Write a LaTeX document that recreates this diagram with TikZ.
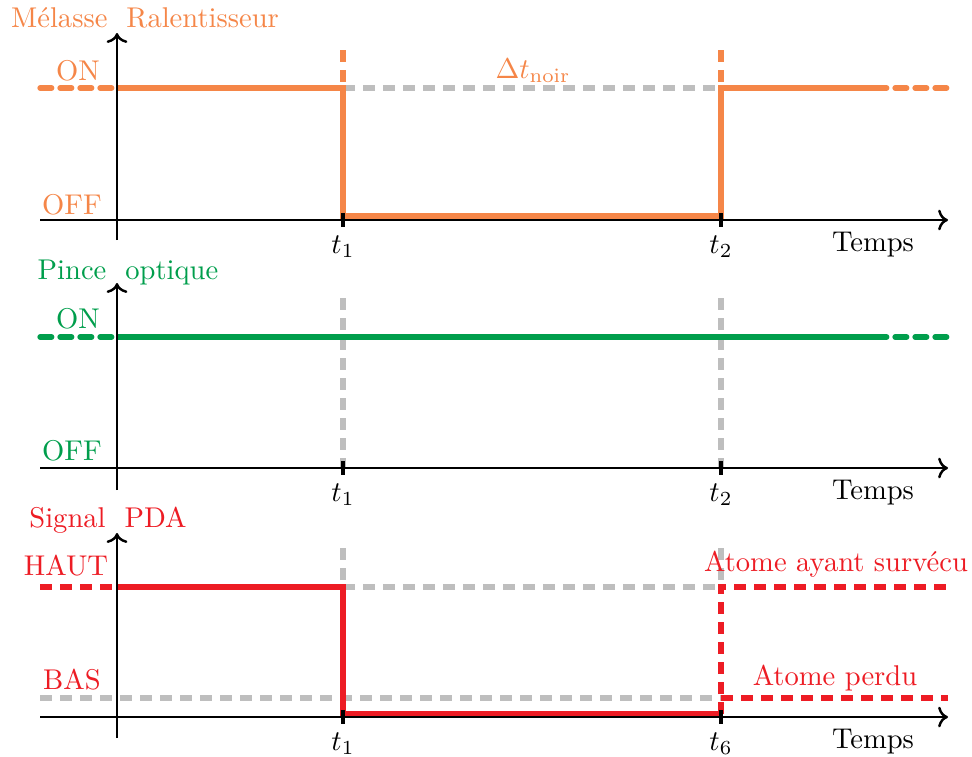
\documentclass[tikz,border=0pt]{standalone}
\usetikzlibrary{arrows.meta}
\definecolor{orng}{RGB}{245,134,72}
\definecolor{grn}{RGB}{0,158,76}
\definecolor{rd}{RGB}{237,28,36}
\definecolor{gry}{RGB}{190,190,190}
\begin{document}
\begin{tikzpicture}[x=0.35pt,y=-0.35pt,
  axis/.style={line width=0.85pt,black},
  axarrow/.style={axis,->},
  tick/.style={line width=1.3pt,black},
  sig/.style={line width=1.85pt},
  dsh/.style={line width=1.85pt,dash pattern=on 4.1pt off 2.9pt},
  lbl/.style={inner sep=0pt,anchor=base}]
\useasboundingbox (0,0) rectangle (972,756);

% ---------------- Panel 1
\coordinate (a1l) at (40,220); \coordinate (a1r) at (948,220);
\coordinate (y1b) at (117,240); \coordinate (y1t) at (117,33);
\draw[dsh,gry] (343,88) -- (721,88);
\draw[dsh,orng,line cap=round] (40,88) -- (117,88);
\draw[dsh,orng,line cap=round] (875,88) -- (948,88);
\draw[sig,orng] (117,88) -- (343,88) -- (343,216) -- (721,216) -- (721,88) -- (875,88);
\draw[dsh,orng] (343,50) -- (343,88);
\draw[dsh,orng] (721,50) -- (721,88);
\draw[axarrow] (a1l) -- (a1r);
\draw[axarrow] (y1b) -- (y1t);
\draw[tick] (343,213) -- (343,227);
\draw[tick] (721,213) -- (721,227);
\node[lbl,orng] (m1) at (145,27) {Mélasse\ \ Ralentisseur};
\node[lbl,orng] (on1) at (78,80) {ON};
\node[lbl,orng] (off1) at (72,214) {OFF};
\node[lbl,orng] (dt) at (533,78) {$\Delta t_{\mathrm{noir}}$};
\node[lbl] (t11) at (343,253) {$t_1$};
\node[lbl] (t21) at (721,253) {$t_2$};
\node[lbl] (tp1) at (873,251) {Temps};

% ---------------- Panel 2
\coordinate (a2l) at (40,468); \coordinate (a2r) at (948,468);
\coordinate (y2b) at (117,490); \coordinate (y2t) at (117,283);
\draw[dsh,gry] (343,298) -- (343,468);
\draw[dsh,gry] (721,298) -- (721,468);
\draw[dsh,grn,line cap=round] (40,337) -- (117,337);
\draw[dsh,grn,line cap=round] (875,337) -- (948,337);
\draw[sig,grn] (117,337) -- (875,337);
\draw[axarrow] (a2l) -- (a2r);
\draw[axarrow] (y2b) -- (y2t);
\draw[tick] (343,461) -- (343,475);
\draw[tick] (721,461) -- (721,475);
\node[lbl,grn] (m2) at (128,279) {Pince\ \ optique};
\node[lbl,grn] (on2) at (78,328) {ON};
\node[lbl,grn] (off2) at (72,460) {OFF};
\node[lbl] (t12) at (343,501) {$t_1$};
\node[lbl] (t22) at (721,501) {$t_2$};
\node[lbl] (tp2) at (873,499) {Temps};

% ---------------- Panel 3
\coordinate (a3l) at (40,717); \coordinate (a3r) at (948,717);
\coordinate (y3b) at (117,738); \coordinate (y3t) at (117,533);
\draw[dsh,gry] (343,548) -- (343,587);
\draw[dsh,gry] (721,548) -- (721,587);
\draw[dsh,gry] (343,587) -- (721,587);
\draw[dsh,gry] (40,698) -- (721,698);
\draw[dsh,rd] (40,587) -- (117,587);
\draw[sig,rd] (117,587) -- (343,587) -- (343,714) -- (721,714);
\draw[dsh,rd] (721,714) -- (721,587) -- (948,587);
\draw[dsh,rd] (721,698) -- (948,698);
\draw[axarrow] (a3l) -- (a3r);
\draw[axarrow] (y3b) -- (y3t);
\draw[tick] (343,710) -- (343,724);
\draw[tick] (721,710) -- (721,724);
\node[lbl,rd] (m3) at (108,527) {Signal\ \ PDA};
\node[lbl,rd] (haut) at (66,575) {HAUT};
\node[lbl,rd] (bas) at (72,689) {BAS};
\node[lbl,rd] (surv) at (836,571) {Atome ayant survécu};
\node[lbl,rd] (perdu) at (835,685) {Atome perdu};
\node[lbl] (t13) at (343,750) {$t_1$};
\node[lbl] (t63) at (721,750) {$t_6$};
\node[lbl] (tp3) at (873,748) {Temps};
\end{tikzpicture}
\end{document}
